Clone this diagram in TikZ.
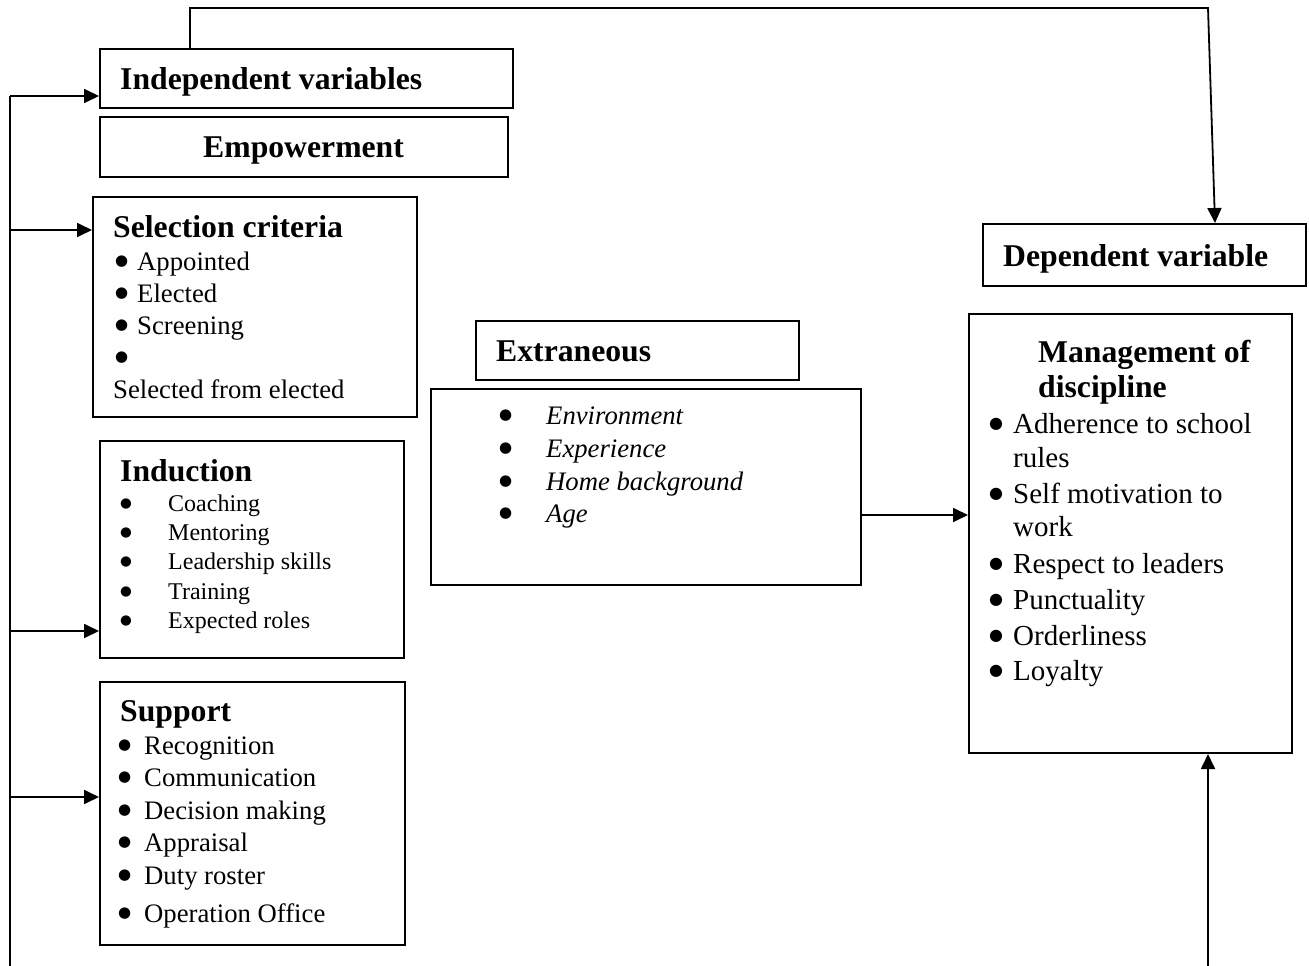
\documentclass[tikz,border=0pt]{standalone}
\usepackage{fontspec}
\setmainfont{Liberation Serif}
\newfontfamily\bulfont{DejaVu Sans}
\usetikzlibrary{arrows.meta}
\newcommand{\mybul}[3]{\makebox[#2][l]{\raisebox{#3}{\bulfont\fontsize{#1}{#1}\selectfont ●}}}
\tikzset{
  box/.style={draw, line width=2pt, inner sep=0pt, anchor=north west},
  ln/.style={line width=1.8pt},
  arr/.style={line width=1.8pt, -{Triangle[length=15pt,width=14pt]}},
  hd/.style={anchor=base west, inner sep=0pt, font=\fontsize{31.7}{38}\selectfont\bfseries},
  itm/.style={anchor=base west, inner sep=0pt, font=\fontsize{26.7}{32}\selectfont},
  itms/.style={anchor=base west, inner sep=0pt, font=\fontsize{24}{29}\selectfont},
  itml/.style={anchor=base west, inner sep=0pt, font=\fontsize{29}{35}\selectfont},
}
\begin{document}
\begin{tikzpicture}[x=1pt,y=-1pt]
\useasboundingbox (0,0) rectangle (1309,966);
% boxes
\node[box, minimum width=413pt, minimum height=59pt] (ind) at (99,48) {};
\node[box, minimum width=408pt, minimum height=60pt] (emp) at (99,116) {};
\node[box, minimum width=324pt, minimum height=220pt] (sel) at (92,196) {};
\node[box, minimum width=304pt, minimum height=217pt] (indu) at (99,440) {};
\node[box, minimum width=305pt, minimum height=263pt] (sup) at (99,681) {};
\node[box, minimum width=323pt, minimum height=59pt] (ext) at (475,320) {};
\node[box, minimum width=430pt, minimum height=196pt] (extl) at (430,388) {};
\node[box, minimum width=323pt, minimum height=62pt] (dep) at (982,223) {};
\node[box, minimum width=323pt, minimum height=439pt] (mgmt) at (968,313) {};
% texts
\node[hd] (tind) at (120,89) {Independent variables};
\node[hd] (temp) at (203,157) {Empowerment};
\node[hd] (tsel) at (113,237) {Selection criteria};
\foreach \t/\y [count=\i] in {Appointed/270, Elected/302, Screening/334}{
  \node[itm] (st\i) at (115,\y) {\mybul{15}{22pt}{4.5pt}\t};
}
\node[itm] (sb4) at (115,366) {\mybul{15}{22pt}{4.5pt}};
\node[itm] (st4) at (113,398) {Selected from elected};
\node[hd] (tindu) at (120,481) {Induction};
\foreach \t/\y [count=\i] in {Coaching/511, Mentoring/540, Leadership skills/569, Training/599, Expected roles/628}{
  \node[itms] (it\i) at (120,\y) {\mybul{13.5}{48pt}{4pt}\t};
}
\node[hd] (tsup) at (120,721) {Support};
\foreach \t/\y [count=\i] in {Recognition/754, Communication/786, Decision making/819, Appraisal/851, Duty roster/884, Operation Office/922}{
  \node[itm] (pt\i) at (118,\y) {\mybul{15}{26pt}{4.5pt}\t};
}
\node[hd] (text) at (496,361) {Extraneous};
\foreach \t/\y [count=\i] in {Environment/424, Experience/457, Home background/490, Age/522}{
  \node[itm] (et\i) at (499,\y) {\mybul{15}{47pt}{4.5pt}\textit{\t}};
}
\node[hd] (tdep) at (1003,266) {Dependent variable};
\node[hd] (tm1) at (1038,362) {Management of};
\node[hd] (tm2) at (1038,397) {discipline};
\foreach \t/\y [count=\i] in {Adherence to school/433, Self motivation to/503, Respect to leaders/573, Punctuality/609, Orderliness/645, Loyalty/680}{
  \node[itml] (mt\i) at (989,\y) {\mybul{16}{24pt}{5pt}\t};
}
\node[itml] (mr1) at (1013,467) {rules};
\node[itml] (mr2) at (1013,536) {work};
% connectors
\coordinate (sbot) at (10,966);
\coordinate (s1) at (10,96);
\coordinate (s2) at (10,230);
\coordinate (s3) at (10,631);
\coordinate (s4) at (10,797);
\draw[ln] (sbot) -- (s1);
\draw[arr] (s1) -- (s1 -| ind.west);
\draw[arr] (s2) -- (s2 -| sel.west);
\draw[arr] (s3) -- (s3 -| indu.west);
\draw[arr] (s4) -- (s4 -| sup.west);
\coordinate (t1) at (190,8);
\coordinate (t2) at (1208,8);
\coordinate (t3) at (1215,0);
\draw[arr] (ind.north -| t1) -- (t1) -- (t2) -- (dep.north -| t3);
\coordinate (m1) at (900,515);
\draw[arr] (extl.east |- m1) -- (m1 -| mgmt.west);
\coordinate (b1) at (1208,966);
\draw[arr] (b1) -- (b1 |- mgmt.south);
\end{tikzpicture}
\end{document}
